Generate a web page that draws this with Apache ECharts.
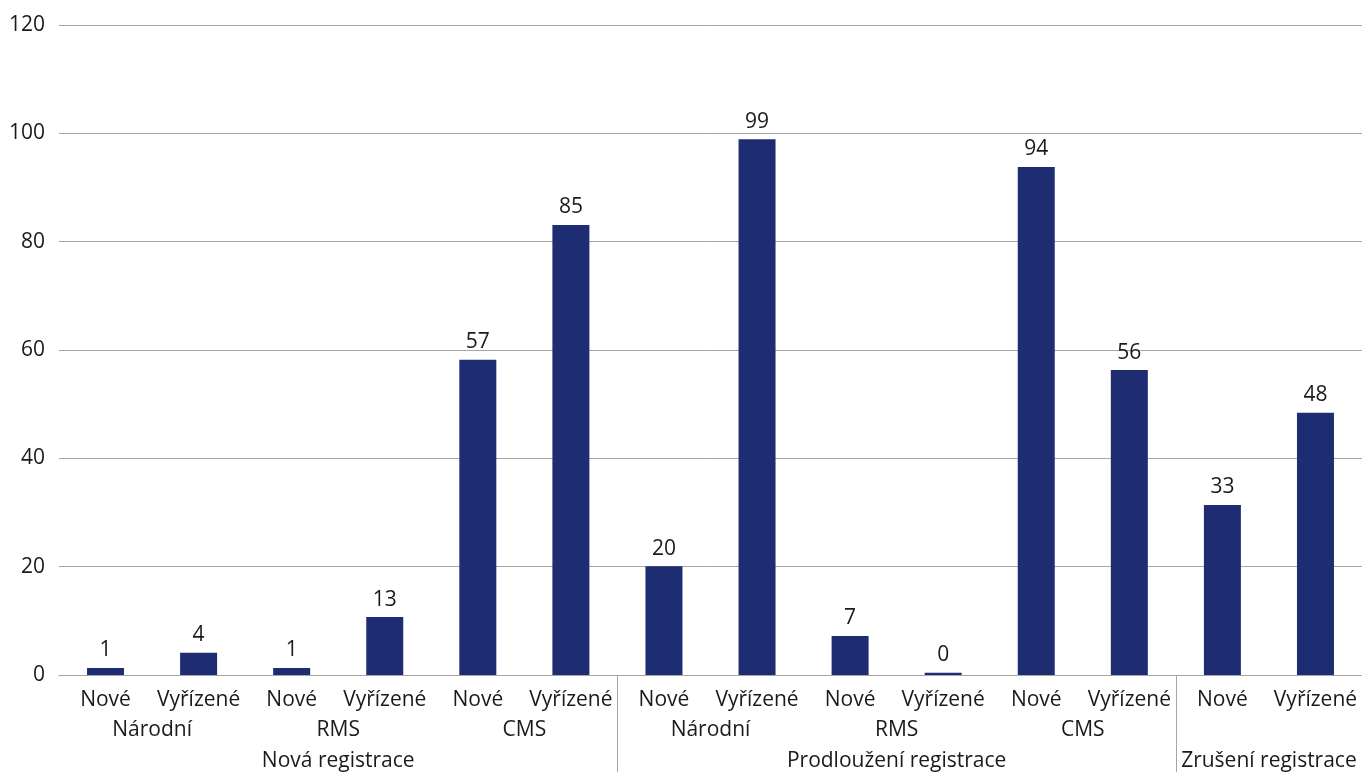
<!DOCTYPE html>
<html>
<head>
<meta charset="utf-8">
<script src="https://cdn.jsdelivr.net/npm/echarts@6/dist/echarts.min.js"></script>
<style>
  html, body { margin: 0; padding: 0; background: #fff; }
  #chart { width: 1362px; height: 772px; }
</style>
</head>
<body>
<div id="chart"></div>
<script>
// data
const categories = ['Nové', 'Vyřízené', 'Nové', 'Vyřízené', 'Nové', 'Vyřízené',
  'Nové', 'Vyřízené', 'Nové', 'Vyřízené', 'Nové', 'Vyřízené', 'Nové', 'Vyřízené'];
const subGroups = ['Národní', 'RMS', 'CMS', 'Národní', 'RMS', 'CMS', ''];
const groups = ['Nová registrace', 'Prodloužení registrace', 'Zrušení registrace'];
const groupCenters = [3, 9, 13];
const groupBounds = [6, 12];
// bar heights as drawn
const values = [1.3, 4.1, 1.3, 10.7, 58.2, 83.1, 20.1, 98.9, 7.2, 0.4, 93.8, 56.3, 31.4, 48.4];
// value labels as printed
const labels = ['1', '4', '1', '13', '57', '85', '20', '99', '7', '0', '94', '56', '33', '48'];
const yTicks = [0, 20, 40, 60, 80, 100, 120];

const FONT = 'Open Sans';
const TXT = '#1a1a1a';
const FS = 21;

const myChart = echarts.init(document.getElementById('chart'));

const option = {
  animation: false,
  grid: { left: 59, top: 25, width: 1306, height: 650 },
  xAxis: [
    {
      type: 'category',
      data: categories,
      axisLine: { lineStyle: { color: '#a6a6a6', width: 1 } },
      axisTick: { show: false },
      axisLabel: { color: TXT, fontFamily: FONT, fontSize: FS, margin: 15, interval: 0 }
    },
    {
      type: 'category',
      data: subGroups,
      position: 'bottom',
      axisLine: { show: false },
      axisTick: { show: false },
      axisLabel: { color: TXT, fontFamily: FONT, fontSize: FS, margin: 45, interval: 0 }
    },
    {
      type: 'value',
      min: 0,
      max: 14,
      position: 'bottom',
      splitLine: { show: false },
      axisLine: { show: false },
      axisTick: {
        show: true,
        customValues: groupBounds,
        length: 100,
        lineStyle: { color: '#a6a6a6', width: 1 }
      },
      axisLabel: {
        customValues: groupCenters,
        color: TXT, fontFamily: FONT, fontSize: FS, margin: 76,
        formatter: function (v) {
          const i = groupCenters.indexOf(v);
          return i >= 0 ? groups[i] : '';
        }
      }
    }
  ],
  yAxis: {
    type: 'value',
    min: yTicks[0],
    max: yTicks[yTicks.length - 1],
    interval: 20,
    axisLine: { show: false },
    axisTick: { show: false },
    splitLine: { lineStyle: { color: '#a6a6a6', width: 1 } },
    axisLabel: { color: TXT, fontFamily: FONT, fontSize: FS, margin: 14 }
  },
  series: [{
    type: 'bar',
    xAxisIndex: 0,
    data: values,
    barWidth: 37,
    itemStyle: { color: '#1e2d72' },
    label: {
      show: true,
      position: 'top',
      distance: 7,
      color: TXT,
      fontFamily: FONT,
      fontSize: FS,
      formatter: function (p) { return labels[p.dataIndex]; }
    }
  }]
};

myChart.setOption(option);
</script>
</body>
</html>
